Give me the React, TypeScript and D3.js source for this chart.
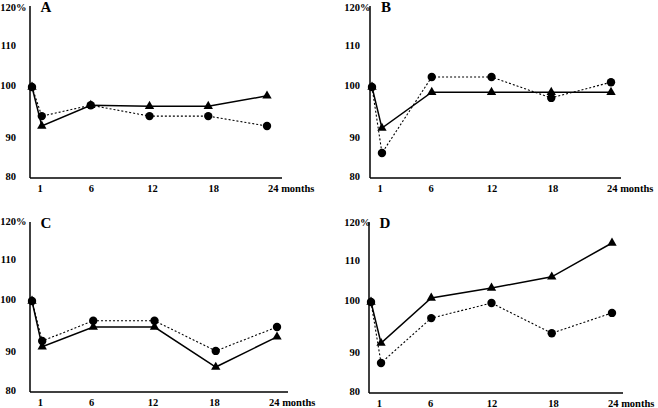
import React from "react";
import * as d3 from "d3";

// time points (months), 0 = baseline
const months = [0, 1, 6, 12, 18, 24];
const tickMonths = [1, 6, 12, 18, 24];
const yTicks = [80, 90, 100, 110, 120];

// % of baseline
const aCircle = [100, 94.4, 96.5, 94.4, 94.4, 92.5];
const aTriangle = [100, 92.5, 96.5, 96.3, 96.3, 98.3];
const bCircle = [100, 86.4, 102.5, 102.5, 97.9, 101.2];
const bTriangle = [100, 92.1, 99, 99, 99, 99];
const cCircle = [100, 92.3, 96.2, 96.2, 90.4, 95.0];
const cTriangle = [100, 91.2, 95.0, 95.0, 86.4, 93.1];
const dCircle = [100, 87.7, 96.9, 99.8, 94.0, 97.9];
const dTriangle = [100, 92.1, 101, 103.5, 106.3, 115];

const panelNames = ["A", "B", "C", "D"];

// the original axis is not evenly spaced between ticks
const yOffsets = [0, 39, 91, 131, 169];

const layout = [
  { left: 30, top: 6, bottom: 178, axisLen: 252, dataLen: 235, tickLen: 245, labelGap: 14 },
  { left: 370, top: 6, bottom: 178, axisLen: 251, dataLen: 239, tickLen: 244, labelGap: 10 },
  { left: 30, top: 222, bottom: 392, axisLen: 258, dataLen: 245, tickLen: 246, labelGap: 14 },
  { left: 369, top: 222, bottom: 393, axisLen: 254, dataLen: 241, tickLen: 246, labelGap: 9 },
];

const series = [
  [aCircle, aTriangle],
  [bCircle, bTriangle],
  [cCircle, cTriangle],
  [dCircle, dTriangle],
];

const font = "'Liberation Serif', 'Times New Roman', serif";

const Panel = ({ name, circle, triangle, cfg }) => {
  const x = d3.scaleLinear().domain([0, 24]).range([cfg.left + 2, cfg.left + 2 + cfg.dataLen]);
  const xt = d3.scaleLinear().domain([0, 24]).range([cfg.left, cfg.left + cfg.tickLen]);
  const y = d3.scaleLinear().domain(yTicks).range(yOffsets.map((o) => cfg.bottom - o));

  const line = d3.line<number>()
    .x((d, i) => x(months[i]))
    .y((d) => y(d));

  const tri = d3.symbol().type(d3.symbolTriangle).size(38)();

  return (
    <g fontFamily={font} fontWeight="bold" fill="#000">
      <line x1={cfg.left} x2={cfg.left} y1={cfg.top} y2={cfg.bottom} stroke="#000" strokeWidth={1.5} />
      <line x1={cfg.left} x2={cfg.left + cfg.axisLen} y1={cfg.bottom} y2={cfg.bottom} stroke="#000" strokeWidth={1.5} />
      {yTicks.map((v, i) => (
        <g key={v}>
          <text x={cfg.left - cfg.labelGap} y={y(v)} textAnchor="end" dominantBaseline="middle" fontSize={10.5}>
            {v}
          </text>
          {i === yTicks.length - 1 && (
            <text x={cfg.left - cfg.labelGap} y={y(v)} dominantBaseline="middle" fontSize={10.5}>%</text>
          )}
        </g>
      ))}
      {tickMonths.map((m, i) => (
        <text
          key={m}
          x={i === tickMonths.length - 1 ? xt(m) - 7 : xt(m)}
          y={cfg.bottom + 12}
          textAnchor={i === tickMonths.length - 1 ? "start" : "middle"}
          dominantBaseline="middle"
          fontSize={10.5}
        >
          {i === tickMonths.length - 1 ? `${m} months` : m}
        </text>
      ))}
      <text x={cfg.left + 16} y={cfg.top + 3} textAnchor="middle" dominantBaseline="middle" fontSize={15}>
        {name}
      </text>
      <path d={line(triangle)} fill="none" stroke="#000" strokeWidth={1.5} />
      <path d={line(circle)} fill="none" stroke="#000" strokeWidth={1.1} strokeDasharray="2,2" />
      {triangle.map((v, i) => (
        <path key={"t" + i} d={tri} transform={`translate(${x(months[i])},${y(v)})`} fill="#000" />
      ))}
      {circle.map((v, i) => (
        <circle key={"c" + i} cx={x(months[i])} cy={y(v)} r={4.2} fill="#000" />
      ))}
    </g>
  );
};

export default function App() {
  return (
    <>
      <style>{`body{margin:0}`}</style>
      <svg width={658} height={408} style={{ display: "block", background: "#fff" }}>
        {panelNames.map((n, i) => (
          <Panel key={n} name={n} circle={series[i][0]} triangle={series[i][1]} cfg={layout[i]} />
        ))}
      </svg>
    </>
  );
}
